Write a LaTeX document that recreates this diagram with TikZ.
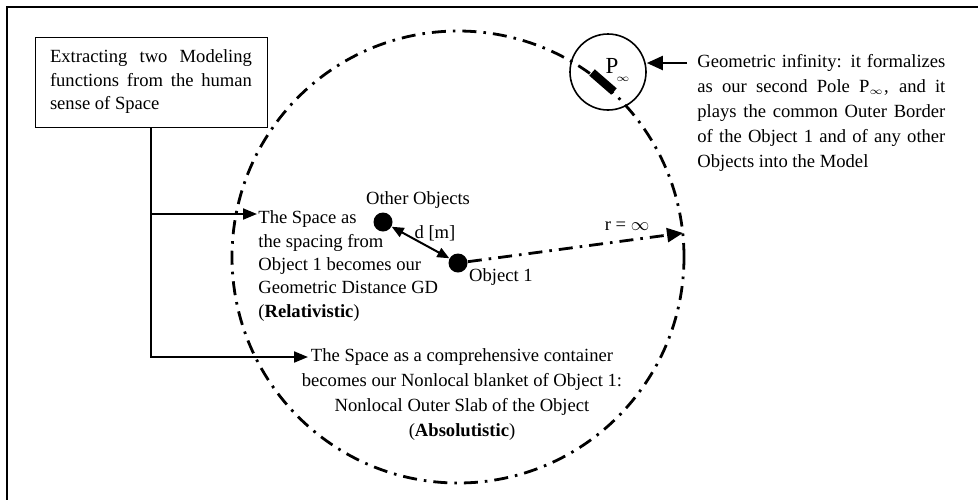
\documentclass[tikz,border=0pt]{standalone}
\usepackage{fontspec}
\setmainfont{Liberation Serif}
\usetikzlibrary{arrows.meta}
\begin{document}
\begin{tikzpicture}[x=0.5pt,y=-0.5pt,
  every node/.style={font=\fontsize{9.3}{11.75}\selectfont, inner sep=0pt},
  conn/.style={line width=1pt},
  tip/.style={-{Triangle[length=7pt,width=5.5pt]}},
  bigtip/.style={-{Triangle[length=8pt,width=7pt]}},
  bothtips/.style={{Triangle[length=6pt,width=5pt]}-{Triangle[length=6pt,width=5pt]}},
  dashdot/.style={line width=1.4pt, dash pattern=on 7pt off 3.5pt on 1.3pt off 3.5pt},
  dot/.style={circle, fill=black, minimum size=9.5pt, inner sep=0pt}
]
\useasboundingbox (0,0) rectangle (978,499);
% outer frame
\draw[line width=1pt] (7,7) rectangle (1000,520);

% the space as a sphere of infinite radius
\draw[dashdot] (458,257) circle[radius=113pt];

% heading box
\node[draw, line width=0.5pt, minimum width=116pt, minimum height=45pt, align=left] (box) at (151,82)
  {\makebox[101pt][s]{Extracting two Modeling}\\
   \makebox[101pt][s]{functions from the human}\\
   sense of Space};

% the two modelling functions
\node[anchor=west, align=left, font=\fontsize{9.3}{11.65}\selectfont] (rel) at (258,266)
  {The Space as\\
   the spacing from\\
   Object 1 becomes our\\
   Geometric Distance GD\\
   (\textbf{Relativistic})};
\node[align=center, font=\fontsize{9.3}{12.5}\selectfont] (abs) at (462,395)
  {The Space as a comprehensive container\\
   becomes our Nonlocal blanket of Object 1:\\
   Nonlocal Outer Slab of the Object\\
   (\textbf{Absolutistic})};

\coordinate (t1) at (257,214);
\coordinate (t2) at (308,357);
\draw[conn, tip] (box.south) |- (t1);
\draw[conn, tip] (box.south) |- (t2);

% objects
\node[dot] (other) at (383,222) {};
\node[dot] (obj) at (458,263) {};
\node (otherlbl) at (418,200) {Other Objects};
\node (objlbl) at (501,277) {Object 1};
\draw[conn, bothtips] (other) -- (obj);
\node (dlbl) at (435,233) {d [m]};

% radius
\coordinate (rtip) at (683,233);
\draw[dashdot, bigtip] (obj) -- (rtip);
\node (rlbl) at (627,226) {r = $\infty$};

% pole at infinity
\node[circle, draw, line width=0.8pt, minimum size=38pt] (pinf) at (608,72) {};
\node[fill=black, minimum width=14.5pt, minimum height=4.2pt, rotate=-41] (bar) at (603,82) {};
\node[font=\fontsize{11.5}{12}\selectfont] (plbl) at (612,66) {P};
\node (psub) at (623,79) {$\scriptscriptstyle\infty$};

\node[anchor=west, align=left, font=\fontsize{9.3}{12.5}\selectfont] (geo) at (697,113)
  {\makebox[124pt][s]{Geometric infinity: it formalizes}\\
   \makebox[124pt][s]{as our second Pole P$_{\scriptscriptstyle\infty}$, and it}\\
   \makebox[124pt][s]{plays the common Outer Border}\\
   \makebox[124pt][s]{of the Object 1 and of any other}\\
   Objects into the Model};
\coordinate (a0) at (687,63);
\draw[conn, bigtip] (a0) -- (a0 -| pinf.east);
\end{tikzpicture}
\end{document}
